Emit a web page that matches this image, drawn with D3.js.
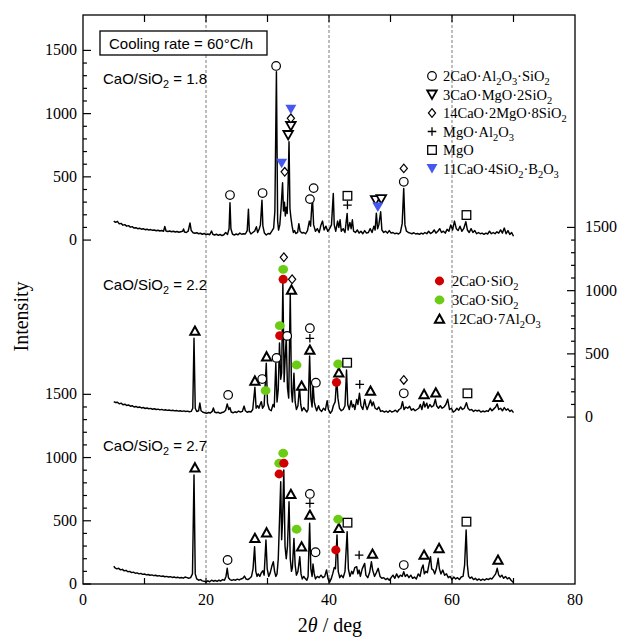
<!DOCTYPE html>
<html>
<head>
<meta charset="utf-8">
<script src="https://cdn.jsdelivr.net/npm/d3@7"></script>
<style>
  html, body { margin: 0; padding: 0; background: #fff; }
  svg { display: block; }
  .serif { font-family: "Liberation Serif", "Times New Roman", serif; }
  .sans { font-family: "Liberation Sans", Arial, sans-serif; }
</style>
</head>
<body>
<svg id="chart" width="617" height="637"></svg>
<script>
// XRD patterns (2θ in deg, intensity in counts) for three CaO/SiO2 ratios
const pattern18 = [
  [5.0,150],[5.3,140],[5.6,148],[5.9,128],[6.2,132],[6.5,118],[6.8,122],[7.1,110],[7.4,114],[7.7,102],
  [8.0,106],[8.3,95],[8.6,98],[8.9,90],[9.2,94],[9.5,86],[9.8,90],[10.1,82],[10.4,86],[10.7,80],
  [11.0,83],[11.3,77],[11.6,80],[11.9,74],[12.2,78],[12.5,72],[12.8,76],[13.1,70],[13.3,108],[13.5,72],
  [13.8,68],[14.1,72],[14.4,66],[14.7,70],[15.0,64],[15.3,68],[15.6,62],[15.9,66],[16.2,70],[16.35,88],
  [16.5,64],[16.8,60],[17.1,70],[17.4,136],[17.6,75],[17.9,58],[18.2,54],[18.5,58],[18.8,50],[19.1,54],
  [19.4,46],[19.7,52],[20.0,44],[20.3,48],[20.6,42],[20.9,72],[21.1,46],[21.4,40],[21.7,46],[22.0,38],
  [22.3,44],[22.6,36],[22.9,42],[23.2,60],[23.5,45],[23.75,90],[23.9,295],[24.05,90],[24.3,48],[24.6,40],
  [24.9,48],[25.2,42],[25.5,55],[25.8,46],[26.1,50],[26.4,48],[26.7,75],[26.9,243],[27.05,70],[27.3,48],
  [27.6,60],[27.9,70],[28.2,105],[28.4,60],[28.65,88],[28.85,120],[29.1,316],[29.25,110],[29.5,55],[29.8,40],
  [30.1,52],[30.4,48],[30.7,70],[31.0,95],[31.2,230],[31.45,1331],[31.65,150],[31.8,79],[32.0,120],[32.2,250],
  [32.45,453],[32.6,230],[32.75,300],[32.9,190],[33.05,260],[33.2,210],[33.35,440],[33.5,778],[33.65,250],[33.8,180],
  [34.0,110],[34.2,60],[34.4,75],[34.6,52],[34.9,60],[35.1,130],[35.3,70],[35.6,55],[35.9,60],[36.2,50],
  [36.5,75],[36.8,150],[37.0,110],[37.3,343],[37.5,120],[37.8,70],[38.1,90],[38.4,60],[38.7,120],[38.95,150],
  [39.2,80],[39.5,110],[39.8,70],[40.1,90],[40.4,120],[40.7,369],[40.85,120],[41.1,70],[41.4,150],[41.6,100],
  [41.8,160],[42.0,70],[42.3,90],[42.6,60],[42.95,211],[43.1,80],[43.4,140],[43.6,90],[43.8,160],[44.0,70],
  [44.3,60],[44.6,80],[44.9,55],[45.2,70],[45.5,50],[45.8,75],[46.1,55],[46.4,60],[46.7,90],[47.0,60],
  [47.3,110],[47.5,80],[47.7,213],[47.9,90],[48.1,120],[48.4,224],[48.6,80],[48.9,60],[49.2,70],[49.5,55],
  [49.8,75],[50.1,55],[50.4,60],[50.7,50],[51.0,55],[51.3,48],[51.6,60],[51.9,130],[52.15,409],[52.35,120],
  [52.6,70],[52.9,60],[53.2,55],[53.5,50],[53.8,58],[54.1,48],[54.4,52],[54.7,45],[55.0,55],[55.3,48],
  [55.6,60],[55.9,50],[56.2,70],[56.5,52],[56.8,60],[57.1,80],[57.4,55],[57.7,70],[58.0,90],[58.3,60],
  [58.6,70],[58.9,55],[59.2,85],[59.5,70],[59.8,120],[60.1,80],[60.4,150],[60.7,90],[61.0,75],[61.3,110],
  [61.6,70],[61.9,90],[62.25,145],[62.5,80],[62.8,60],[63.1,90],[63.4,60],[63.7,75],[64.0,50],[64.3,60],
  [64.6,50],[64.9,55],[65.2,45],[65.5,55],[65.8,48],[66.1,70],[66.4,50],[66.7,60],[67.0,50],[67.3,65],
  [67.6,55],[67.9,80],[68.2,55],[68.5,95],[68.8,50],[69.1,75],[69.4,45],[69.7,60],[70.0,30]
];

const pattern22 = [
  [5.0,122],[5.3,115],[5.6,118],[5.9,105],[6.2,110],[6.5,98],[6.8,102],[7.1,92],[7.4,96],[7.7,86],
  [8.0,90],[8.3,80],[8.6,84],[8.9,76],[9.2,80],[9.5,72],[9.8,76],[10.1,68],[10.4,72],[10.7,66],
  [11.0,69],[11.3,62],[11.6,66],[11.9,60],[12.2,63],[12.5,57],[12.8,61],[13.1,55],[13.4,58],[13.7,53],
  [14.0,56],[14.3,51],[14.6,54],[14.9,49],[15.2,52],[15.5,47],[15.8,50],[16.1,45],[16.4,49],[16.7,44],
  [17.0,47],[17.3,42],[17.6,45],[17.85,70],[18.05,623],[18.25,70],[18.5,44],[18.8,50],[19.0,111],[19.2,50],
  [19.5,38],[19.8,34],[20.1,30],[20.4,36],[20.7,32],[21.0,45],[21.2,72],[21.4,40],[21.7,34],[22.0,38],
  [22.3,30],[22.6,36],[22.9,40],[23.2,55],[23.45,104],[23.7,60],[23.9,75],[24.1,40],[24.4,34],[24.7,42],
  [25.0,36],[25.3,48],[25.6,40],[25.9,45],[26.2,87],[26.4,50],[26.7,38],[27.0,44],[27.3,40],[27.6,60],
  [27.95,236],[28.15,70],[28.4,90],[28.6,70],[28.8,100],[29.0,122],[29.2,70],[29.45,90],[29.8,426],[30.0,110],
  [30.3,60],[30.6,50],[30.9,100],[31.1,80],[31.35,428],[31.55,120],[31.75,220],[31.95,586],[32.15,300],[32.3,350],
  [32.5,1058],[32.7,280],[32.9,500],[33.05,623],[33.25,230],[33.45,150],[33.7,979],[33.9,200],[34.05,120],[34.3,346],
  [34.5,120],[34.7,60],[34.95,90],[35.2,241],[35.4,100],[35.6,50],[35.9,75],[36.1,60],[36.4,40],[36.6,60],
  [36.85,483],[37.05,150],[37.25,80],[37.4,267],[37.6,120],[37.8,80],[38.0,50],[38.3,90],[38.5,60],[38.8,45],
  [39.1,70],[39.4,55],[39.7,130],[39.9,60],[40.2,30],[40.5,50],[40.7,90],[41.0,120],[41.25,307],[41.45,150],
  [41.7,70],[42.0,50],[42.3,60],[42.6,90],[42.85,373],[43.05,100],[43.3,60],[43.6,130],[43.8,80],[44.0,100],
  [44.2,60],[44.5,140],[44.7,100],[44.95,188],[45.2,90],[45.5,60],[45.8,140],[46.0,90],[46.2,60],[46.5,100],
  [46.75,135],[47.0,90],[47.2,120],[47.5,70],[47.8,60],[48.1,80],[48.4,45],[48.7,50],[49.0,40],[49.3,48],
  [49.6,38],[49.9,52],[50.2,40],[50.5,45],[50.8,55],[51.1,40],[51.4,60],[51.7,70],[51.95,122],[52.2,60],
  [52.5,80],[52.8,70],[53.1,85],[53.4,55],[53.7,65],[54.0,50],[54.3,60],[54.6,70],[54.85,100],[55.1,60],
  [55.4,122],[55.6,80],[55.9,110],[56.1,70],[56.4,100],[56.7,80],[57.0,90],[57.3,141],[57.5,90],[57.8,70],
  [58.1,90],[58.4,70],[58.7,80],[59.0,100],[59.3,141],[59.6,60],[59.9,70],[60.2,40],[60.5,50],[60.8,70],
  [61.1,55],[61.4,80],[61.7,60],[62.0,70],[62.35,114],[62.6,70],[62.9,55],[63.2,60],[63.5,45],[63.8,55],
  [64.1,48],[64.4,55],[64.7,40],[65.0,48],[65.3,42],[65.6,50],[65.9,45],[66.2,70],[66.5,50],[66.8,65],
  [67.1,80],[67.35,104],[67.6,60],[67.9,70],[68.2,50],[68.5,75],[68.8,55],[69.1,65],[69.4,45],[69.7,55],
  [70.0,35]
];

const pattern27 = [
  [5.0,140],[5.2,128],[5.5,120],[5.8,124],[6.1,112],[6.4,116],[6.7,104],[7.0,108],[7.3,97],[7.6,100],
  [7.9,90],[8.2,94],[8.5,85],[8.8,88],[9.1,80],[9.4,84],[9.7,76],[10.0,79],[10.3,72],[10.6,75],
  [10.9,69],[11.2,72],[11.5,66],[11.8,69],[12.1,63],[12.4,66],[12.7,60],[13.0,63],[13.3,57],[13.6,60],
  [13.9,55],[14.2,58],[14.5,52],[14.8,55],[15.1,50],[15.4,53],[15.7,48],[16.0,51],[16.3,46],[16.6,55],
  [16.9,50],[17.2,45],[17.5,50],[17.8,80],[18.05,862],[18.25,80],[18.5,40],[18.8,30],[19.1,35],[19.4,25],
  [19.7,22],[20.0,15],[20.3,25],[20.6,18],[20.9,30],[21.2,22],[21.5,28],[21.8,20],[22.1,30],[22.4,24],
  [22.7,35],[23.0,30],[23.25,60],[23.45,124],[23.65,50],[23.9,35],[24.2,28],[24.5,35],[24.8,30],[25.1,38],
  [25.4,32],[25.7,40],[26.0,45],[26.25,63],[26.5,40],[26.8,35],[27.1,45],[27.4,60],[27.65,120],[27.9,295],
  [28.1,100],[28.3,60],[28.5,80],[28.75,60],[29.0,90],[29.25,105],[29.45,70],[29.75,348],[29.95,120],[30.2,60],
  [30.45,90],[30.7,140],[30.95,176],[31.15,100],[31.35,60],[31.55,80],[31.75,200],[31.95,500],[32.15,809],[32.3,350],
  [32.45,500],[32.65,902],[32.85,300],[33.05,200],[33.25,300],[33.5,651],[33.7,200],[33.9,100],[34.05,130],[34.3,361],
  [34.5,150],[34.7,70],[34.95,100],[35.25,216],[35.45,80],[35.65,40],[35.9,60],[36.1,45],[36.4,30],[36.6,60],
  [36.85,480],[37.05,120],[37.25,60],[37.4,158],[37.6,80],[37.8,40],[38.1,60],[38.4,50],[38.7,70],[39.0,50],
  [39.3,60],[39.6,111],[39.85,40],[40.1,15],[40.35,40],[40.6,80],[40.85,130],[41.05,120],[41.3,388],[41.5,100],
  [41.75,50],[42.0,70],[42.3,50],[42.6,100],[42.95,414],[43.15,120],[43.4,60],[43.7,100],[43.9,80],[44.2,130],
  [44.5,137],[44.7,80],[44.9,110],[45.1,60],[45.4,120],[45.8,163],[46.0,70],[46.3,50],[46.6,90],[46.9,176],
  [47.1,110],[47.4,60],[47.7,90],[48.0,124],[48.3,60],[48.6,45],[48.9,50],[49.2,35],[49.5,45],[49.8,30],
  [50.1,50],[50.4,70],[50.7,45],[51.0,80],[51.3,50],[51.6,70],[51.9,60],[52.15,97],[52.4,60],[52.7,75],
  [53.0,50],[53.3,70],[53.6,45],[53.9,55],[54.2,40],[54.5,80],[54.8,60],[55.05,120],[55.3,150],[55.5,80],
  [55.75,100],[56.0,90],[56.5,216],[56.7,120],[56.95,110],[57.2,80],[57.45,120],[57.75,203],[57.95,120],[58.2,80],
  [58.5,110],[58.8,70],[59.1,80],[59.4,50],[59.7,60],[60.0,35],[60.3,55],[60.6,40],[60.9,50],[61.2,35],
  [61.5,55],[61.8,60],[62.05,150],[62.3,427],[62.5,150],[62.7,60],[62.95,45],[63.2,55],[63.5,35],[63.8,45],
  [64.1,30],[64.4,40],[64.7,28],[65.0,38],[65.3,30],[65.6,42],[65.9,35],[66.2,45],[66.5,40],[66.8,60],
  [67.1,80],[67.35,124],[67.6,70],[67.85,55],[68.1,70],[68.4,45],[68.7,60],[69.0,40],[69.3,50],[69.6,30],
  [70.0,12]
];

// Phase identification marks: [2θ, intensity level, phase]
const marks18 = [
  [23.9,356,"C2AS"],[29.2,372,"C2AS"],[31.4,1377,"C2AS"],[32.3,607,"B"],[32.8,540,"C14"],
  [33.36,831,"C3M"],[33.8,902,"C3M"],[33.8,963,"C14"],[33.8,1034,"B"],
  [36.9,324,"C2AS"],[37.5,411,"C2AS"],[43.0,277,"MA"],[43.0,350,"M"],
  [47.6,316,"C3M"],[48.5,324,"C3M"],[47.94,261,"B"],
  [52.16,461,"C2AS"],[52.16,567,"C14"],[62.35,198,"M"]
];
const marks22 = [
  [18.2,681,"C12"],[23.6,175,"C2AS"],[27.95,286,"C12"],[29.14,301,"C2AS"],[29.69,209,"C3S"],
  [29.85,478,"C12"],[31.47,468,"C2AS"],[32.0,644,"C2S"],[32.0,723,"C3S"],
  [32.55,1090,"C2S"],[32.55,1169,"C3S"],[32.66,1264,"C14"],[33.2,642,"C2AS"],
  [33.9,1006,"C12"],[34.0,1090,"C14"],[34.73,412,"C3S"],[35.54,246,"C12"],
  [36.89,531,"C12"],[36.89,623,"MA"],[36.89,703,"C2AS"],[37.86,272,"C2AS"],
  [41.22,275,"C2S"],[41.6,351,"C12"],[41.49,420,"C3S"],[42.95,430,"M"],
  [45.0,259,"MA"],[46.75,206,"C12"],[52.16,188,"C2AS"],[52.16,294,"C14"],
  [55.46,180,"C12"],[57.36,193,"C12"],[62.51,188,"M"],[67.48,157,"C12"]
];
const marks27 = [
  [18.2,920,"C12"],[23.51,190,"C2AS"],[27.95,362,"C12"],[29.85,406,"C12"],
  [31.9,870,"C2S"],[31.9,955,"C3S"],[32.66,955,"C2S"],[32.55,1034,"C3S"],
  [33.8,710,"C12"],[34.73,433,"C3S"],[35.54,295,"C12"],
  [36.89,546,"C12"],[36.89,638,"MA"],[36.89,712,"C2AS"],[37.81,251,"C2AS"],
  [41.11,269,"C2S"],[41.6,441,"C12"],[41.49,512,"C3S"],[43.01,485,"M"],
  [44.9,229,"MA"],[47.07,237,"C12"],[52.16,150,"C2AS"],[55.46,229,"C12"],
  [57.9,282,"C12"],[62.35,493,"M"],[67.48,190,"C12"]
];

// Vertical offsets of each pattern on the shared intensity axis
const panelOffsets = { r18: 2720, r22: 1320, r27: 0 };
const panelLabels = ["CaO/SiO", "2", " = 1.8", " = 2.2", " = 2.7"];

const xTicks = [0, 20, 40, 60, 80];
const yTickLabels = [0, 500, 1000, 1500];

const W = 617, H = 637;
const margin = { left: 83, right: 42, top: 15, bottom: 53 };
const svg = d3.select("#chart");

const x = d3.scaleLinear().domain([0, 80]).range([margin.left, W - margin.right]);
const y = d3.scaleLinear().domain([0, 4500]).range([H - margin.bottom, margin.top]);
const x0 = x.range()[0], x1 = x.range()[1], yb = y.range()[0], yt = y.range()[1];

// dashed reference lines at 20, 40, 60 deg
svg.append("g").selectAll("line").data([20, 40, 60]).join("line")
  .attr("x1", d => x(d)).attr("x2", d => x(d))
  .attr("y1", yt).attr("y2", yb)
  .attr("stroke", "#9a9a9a").attr("stroke-width", 1.3)
  .attr("stroke-dasharray", "3,2");

// frame
svg.append("rect").attr("x", x0).attr("y", yt)
  .attr("width", x1 - x0).attr("height", yb - yt)
  .attr("fill", "none").attr("stroke", "#000").attr("stroke-width", 1.3);

// x ticks (top and bottom, every 10 deg)
const xt = d3.range(10, 80, 10);
svg.append("g").selectAll("line.b").data(xt).join("line")
  .attr("x1", d => x(d)).attr("x2", d => x(d))
  .attr("y1", yb).attr("y2", yb - 6).attr("stroke", "#000").attr("stroke-width", 1.2);
svg.append("g").selectAll("line.t").data(xt).join("line")
  .attr("x1", d => x(d)).attr("x2", d => x(d))
  .attr("y1", yt).attr("y2", yt + 7).attr("stroke", "#000").attr("stroke-width", 1.2);
svg.append("g").selectAll("text").data(xTicks).join("text")
  .attr("class", "serif").attr("x", d => x(d)).attr("y", yb + 21)
  .attr("text-anchor", "middle").attr("font-size", 16).text(d => d);

// y ticks: left axis for the 1.8 and 2.7 patterns, right axis for 2.2
function yTicksAt(offset, side) {
  const g = svg.append("g");
  const vals = d3.range(0, 1501, 100);
  const xe = side === "left" ? x0 : x1;
  const dir = side === "left" ? 1 : -1;
  g.selectAll("line").data(vals).join("line")
    .attr("x1", xe).attr("x2", d => xe + dir * (d % 500 === 0 ? 8 : 4))
    .attr("y1", d => y(d + offset)).attr("y2", d => y(d + offset))
    .attr("stroke", "#000").attr("stroke-width", 1.2);
  g.selectAll("text").data(yTickLabels).join("text")
    .attr("class", "serif")
    .attr("x", side === "left" ? xe - 6 : xe + 10)
    .attr("y", d => y(d + offset) + 5)
    .attr("text-anchor", side === "left" ? "end" : "start")
    .attr("font-size", 16).text(d => d);
}
yTicksAt(panelOffsets.r18, "left");
yTicksAt(panelOffsets.r27, "left");
yTicksAt(panelOffsets.r22, "right");

// patterns
const line = off => d3.line().x(d => x(d[0])).y(d => y(d[1] + off));
[[pattern18, panelOffsets.r18], [pattern22, panelOffsets.r22], [pattern27, panelOffsets.r27]]
  .forEach(([data, off]) => {
    svg.append("path").datum(data).attr("d", line(off))
      .attr("fill", "none").attr("stroke", "#000").attr("stroke-width", 1.45)
      .attr("stroke-linejoin", "round");
  });

// phase symbols
const BLUE = "#4658f0", RED = "#d00000", GREEN = "#6acc14";
function drawSymbol(g, type, cx, cy) {
  switch (type) {
    case "C2AS":
      g.append("circle").attr("cx", cx).attr("cy", cy).attr("r", 4.3)
        .attr("fill", "#fff").attr("stroke", "#000").attr("stroke-width", 1.2); break;
    case "C3M":
      g.append("path").attr("d", `M${cx-4.8},${cy-4} L${cx+4.8},${cy-4} L${cx},${cy+4.5} Z`)
        .attr("fill", "#fff").attr("stroke", "#000").attr("stroke-width", 1.8)
        .attr("stroke-linejoin", "miter"); break;
    case "C14":
      g.append("path").attr("d", `M${cx},${cy-4.3} L${cx+3.6},${cy} L${cx},${cy+4.3} L${cx-3.6},${cy} Z`)
        .attr("fill", "#fff").attr("stroke", "#000").attr("stroke-width", 1.2); break;
    case "MA":
      g.append("path").attr("d", `M${cx-4.3},${cy} L${cx+4.3},${cy} M${cx},${cy-4.3} L${cx},${cy+4.3}`)
        .attr("stroke", "#000").attr("stroke-width", 1.3); break;
    case "M":
      g.append("rect").attr("x", cx - 4.3).attr("y", cy - 4.3).attr("width", 8.6).attr("height", 8.6)
        .attr("fill", "#fff").attr("stroke", "#000").attr("stroke-width", 1.3); break;
    case "B":
      g.append("path").attr("d", `M${cx-5.5},${cy-4.5} L${cx+5.5},${cy-4.5} L${cx},${cy+5} Z`)
        .attr("fill", BLUE).attr("stroke", "none"); break;
    case "C2S":
      g.append("ellipse").attr("cx", cx).attr("cy", cy).attr("rx", 4.6).attr("ry", 4.4)
        .attr("fill", RED); break;
    case "C3S":
      g.append("ellipse").attr("cx", cx).attr("cy", cy).attr("rx", 4.9).attr("ry", 4.4)
        .attr("fill", GREEN); break;
    case "C12":
      g.append("path").attr("d", `M${cx},${cy-4.5} L${cx+4.6},${cy+3.8} L${cx-4.6},${cy+3.8} Z`)
        .attr("fill", "#fff").attr("stroke", "#000").attr("stroke-width", 2)
        .attr("stroke-linejoin", "miter"); break;
  }
}
const markG = svg.append("g");
[[marks18, panelOffsets.r18], [marks22, panelOffsets.r22], [marks27, panelOffsets.r27]]
  .forEach(([marks, off]) => {
    marks.forEach(m => drawSymbol(markG, m[2], x(m[0]), y(m[1] + off)));
  });

// rich text helper: parts are [text, isSubscript]
function richText(g, parts, px, py, size, cls) {
  const t = g.append("text").attr("class", cls).attr("x", px).attr("y", py).attr("font-size", size);
  let prevSub = false;
  parts.forEach(([s, sub]) => {
    const ts = t.append("tspan").text(s);
    if (sub) ts.attr("font-size", size * 0.72);
    if (sub && !prevSub) ts.attr("dy", size * 0.28);
    else if (!sub && prevSub) ts.attr("dy", -size * 0.28);
    prevSub = sub;
  });
  return t;
}

// cooling-rate box
svg.append("rect").attr("x", 100).attr("y", 31).attr("width", 167).attr("height", 24)
  .attr("fill", "#fff").attr("stroke", "#000").attr("stroke-width", 1.3);
svg.append("text").attr("class", "sans").attr("x", 109).attr("y", 49)
  .attr("font-size", 15).text("Cooling rate = 60\u00B0C/h");

// ratio labels
richText(svg, [[panelLabels[0], false], [panelLabels[1], true], [panelLabels[2], false]], 103, 84, 15, "sans");
richText(svg, [[panelLabels[0], false], [panelLabels[1], true], [panelLabels[3], false]], 103, 290, 15, "sans");
richText(svg, [[panelLabels[0], false], [panelLabels[1], true], [panelLabels[4], false]], 103, 451, 15, "sans");

// legends
const legend1 = [
  ["C2AS", [["2CaO\u00B7Al", 0], ["2", 1], ["O", 0], ["3", 1], ["\u00B7SiO", 0], ["2", 1]]],
  ["C3M", [["3CaO\u00B7MgO\u00B72SiO", 0], ["2", 1]]],
  ["C14", [["14CaO\u00B72MgO\u00B78SiO", 0], ["2", 1]]],
  ["MA", [["MgO\u00B7Al", 0], ["2", 1], ["O", 0], ["3", 1]]],
  ["M", [["MgO", 0]]],
  ["B", [["11CaO\u00B74SiO", 0], ["2", 1], ["\u00B7B", 0], ["2", 1], ["O", 0], ["3", 1]]]
];
const legend2 = [
  ["C2S", [["2CaO\u00B7SiO", 0], ["2", 1]]],
  ["C3S", [["3CaO\u00B7SiO", 0], ["2", 1]]],
  ["C12", [["12CaO\u00B77Al", 0], ["2", 1], ["O", 0], ["3", 1]]]
];
const lg = svg.append("g");
legend1.forEach(([type, parts], i) => {
  const cy = 76 + i * 18.5;
  drawSymbol(lg, type, 432, cy);
  richText(lg, parts.map(p => [p[0], !!p[1]]), 443, cy + 5, 14.5, "serif");
});
legend2.forEach(([type, parts], i) => {
  const cy = 281 + i * 19;
  drawSymbol(lg, type, 439.5, cy);
  richText(lg, parts.map(p => [p[0], !!p[1]]), 452, cy + 5, 14.5, "serif");
});

// axis titles
svg.append("text").attr("class", "serif")
  .attr("transform", `translate(28, ${(yt + yb) / 2 + 17}) rotate(-90)`)
  .attr("text-anchor", "middle").attr("font-size", 20).text("Intensity");
const xl = svg.append("text").attr("class", "serif")
  .attr("x", (x0 + x1) / 2 + 1).attr("y", 632).attr("text-anchor", "middle").attr("font-size", 20);
xl.append("tspan").text("2");
xl.append("tspan").attr("font-style", "italic").text("\u03B8");
xl.append("tspan").text(" / deg");
</script>
</body>
</html>
